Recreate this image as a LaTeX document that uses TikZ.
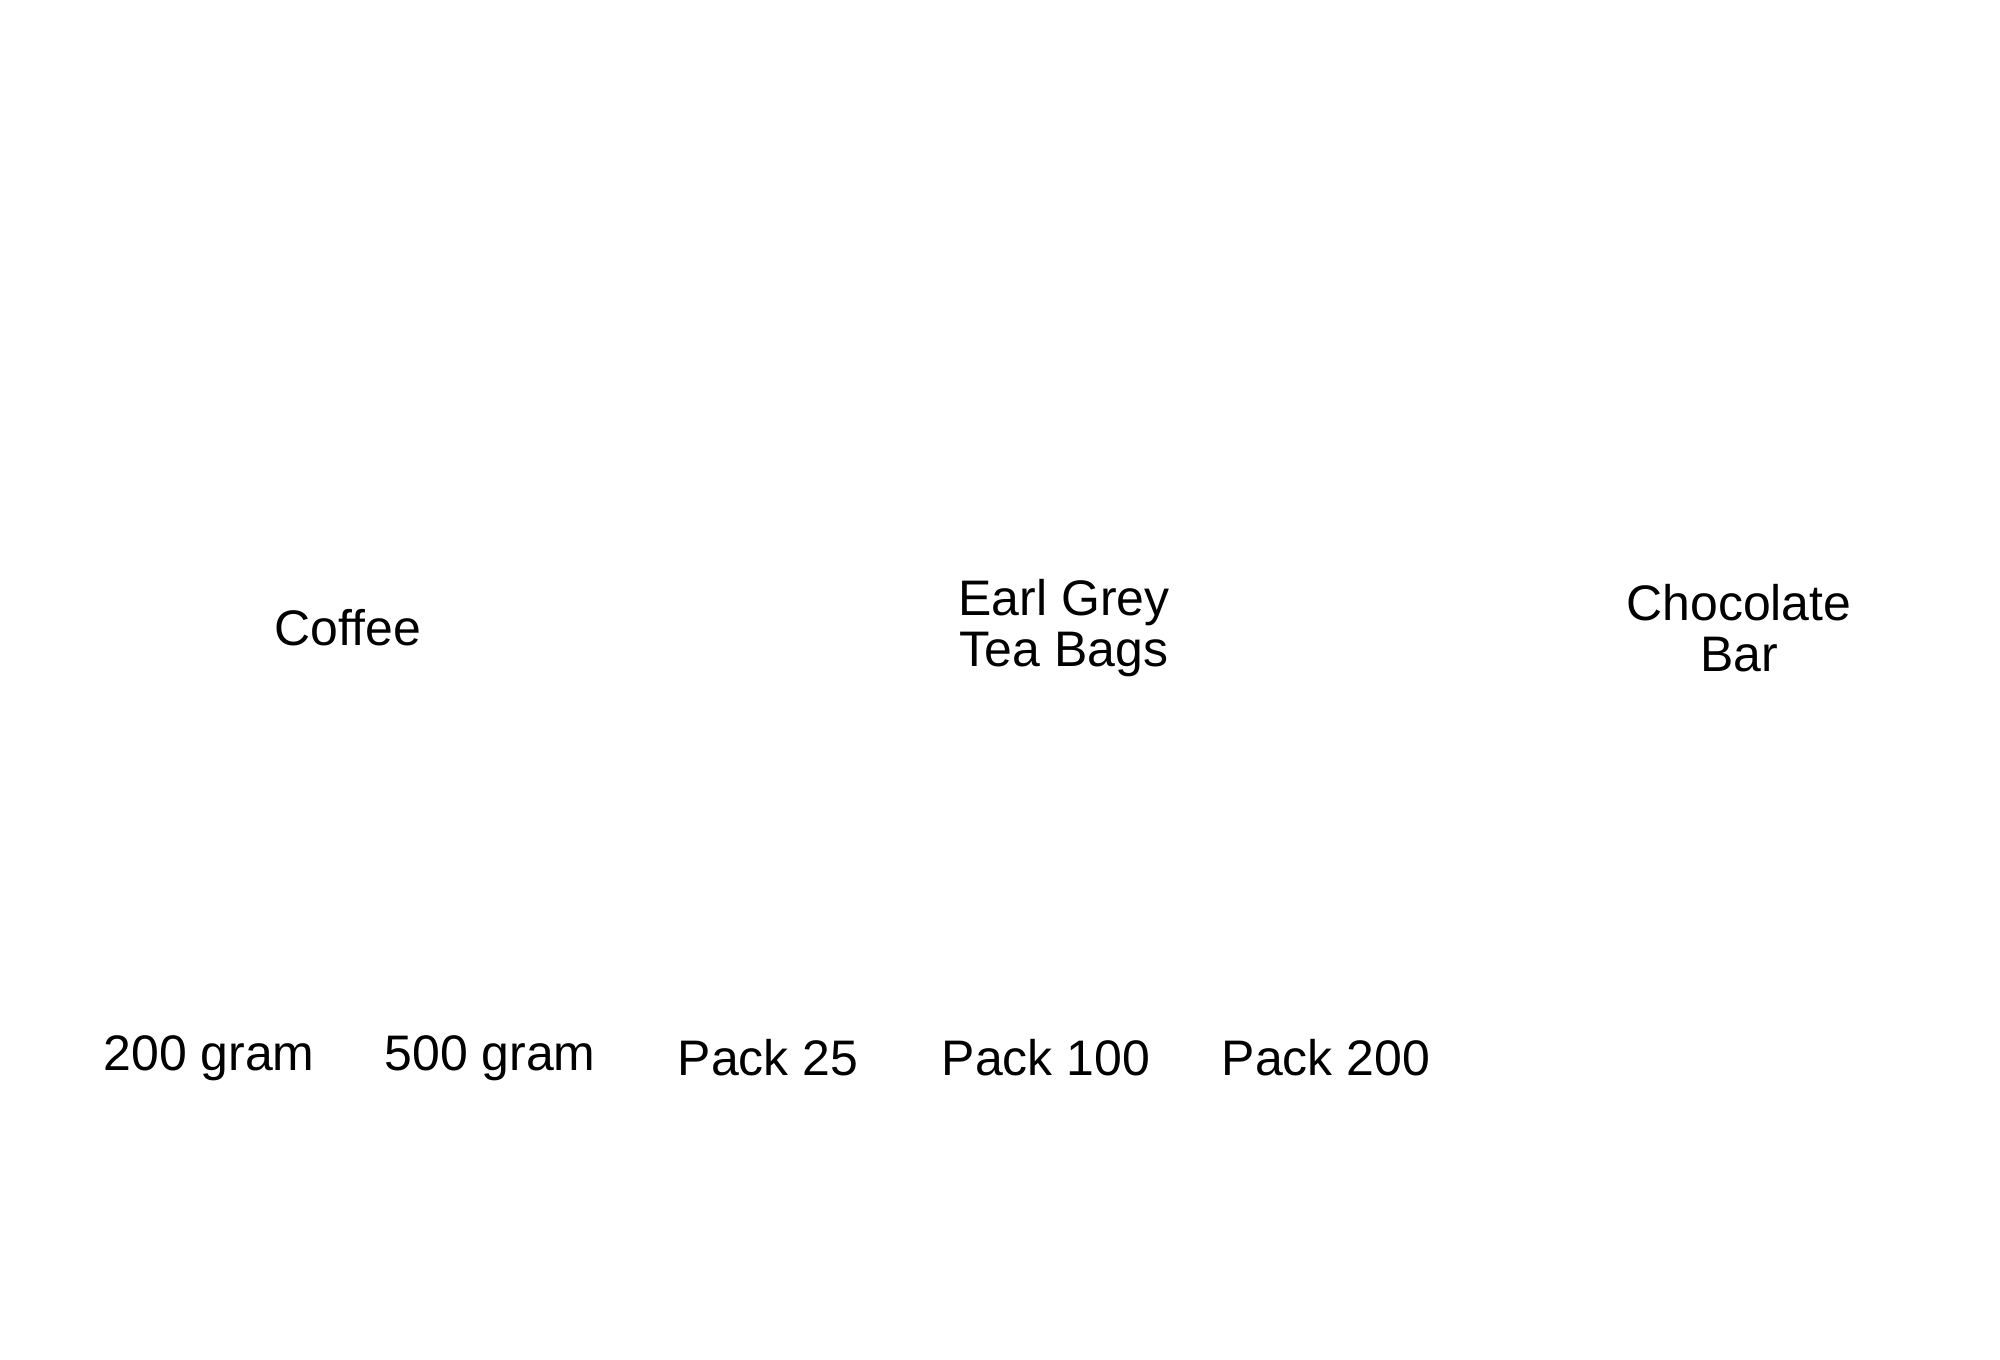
\documentclass[tikz,border=0pt]{standalone}
\usepackage{fontspec}
\setmainfont{Liberation Sans}
\begin{document}
\begin{tikzpicture}[x=0.01cm,y=-0.01cm,
  lbl/.style={font=\fontsize{14.2pt}{14.5pt}\selectfont, inner sep=0pt, align=center, anchor=base}]
\useasboundingbox (0,0) rectangle (2000,1359);
\node[lbl] (coffee) at (348,645) {Coffee};
\node[lbl] (earl) at (1064,666) {Earl Grey\\Tea Bags};
\node[lbl] (choc) at (1739,671) {Chocolate\\Bar};
\node[lbl] (g200) at (209,1070) {200 gram};
\node[lbl] (g500) at (490,1070) {500 gram};
\node[lbl] (p25) at (768,1075) {Pack 25};
\node[lbl] (p100) at (1046,1075) {Pack 100};
\node[lbl] (p200) at (1326,1075) {Pack 200};
\end{tikzpicture}
\end{document}
